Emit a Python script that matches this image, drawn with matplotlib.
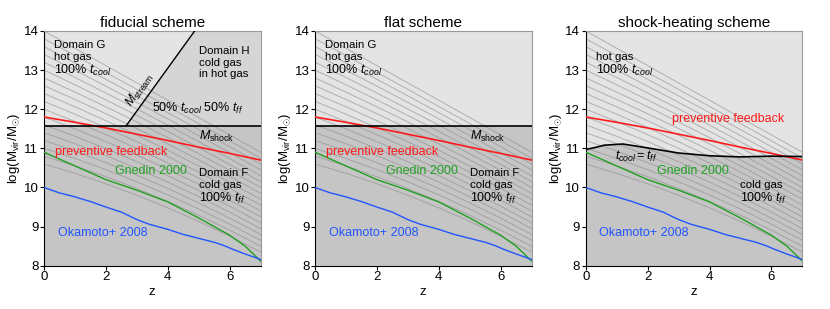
import matplotlib.pyplot as plt
from matplotlib.patches import Polygon

plt.rcParams['font.family'] = ['Liberation Sans', 'DejaVu Sans']
plt.rcParams['mathtext.fontset'] = 'custom'
plt.rcParams['mathtext.rm'] = 'Liberation Sans'
plt.rcParams['mathtext.it'] = 'Liberation Sans:italic'
plt.rcParams['font.size'] = 8

# halo mass accretion tracks, log M at z = 0..7
z_track = [0, 1, 2, 3, 4, 5, 6, 7]
tracks = [
    [14.00, 13.557, 13.114, 12.671, 12.229, 11.786, 11.343, 10.90],
    [13.80, 13.371, 12.940, 12.506, 12.070, 11.632, 11.192, 10.75],
    [13.60, 13.184, 12.764, 12.340, 11.912, 11.479, 11.042, 10.60],
    [13.40, 12.998, 12.589, 12.174, 11.753, 11.325, 10.891, 10.45],
    [13.20, 12.811, 12.413, 12.007, 11.593, 11.170, 10.739, 10.30],
    [13.00, 12.624, 12.237, 11.840, 11.433, 11.016, 10.588, 10.15],
    [12.80, 12.436, 12.061, 11.673, 11.273, 10.861, 10.436, 10.00],
    [12.60, 12.249, 11.884, 11.505, 11.112, 10.705, 10.285, 9.85],
    [12.40, 12.061, 11.706, 11.336, 10.951, 10.549, 10.132, 9.70],
    [12.20, 11.873, 11.529, 11.167, 10.789, 10.393, 9.980, 9.55],
    [12.00, 11.685, 11.351, 10.998, 10.627, 10.237, 9.828, 9.40],
    [11.80, 11.496, 11.172, 10.828, 10.464, 10.080, 9.675, 9.25],
    [11.60, 11.308, 10.994, 10.658, 10.301, 9.922, 9.522, 9.10],
    [11.40, 11.119, 10.815, 10.488, 10.138, 9.765, 9.369, 8.95],
    [11.20, 10.930, 10.635, 10.317, 9.974, 9.607, 9.216, 8.80],
    [11.00, 10.741, 10.456, 10.145, 9.810, 9.448, 9.062, 8.65],
    [10.80, 10.551, 10.275, 9.973, 9.645, 9.290, 8.908, 8.50],
    [10.60, 10.361, 10.095, 9.801, 9.480, 9.131, 8.754, 8.35],
]

z_prev = [0, 1, 2, 3, 4, 5, 6, 7]
m_prev = [11.80, 11.665, 11.52, 11.36, 11.20, 11.03, 10.87, 10.70]

z_gned = [0, 1, 2, 3, 4, 5, 6, 6.5, 7]
m_gned = [10.90, 10.55, 10.20, 9.93, 9.63, 9.22, 8.78, 8.50, 8.12]

z_oka = [0, 0.5, 1.0, 1.5, 2.0, 2.5, 3.0, 3.4, 4.0, 4.5, 5.0, 5.5, 5.8, 6.1, 6.5, 7.0]
m_oka = [10.0, 9.86, 9.76, 9.64, 9.50, 9.37, 9.18, 9.06, 8.93, 8.80, 8.70, 8.60, 8.52, 8.42, 8.30, 8.16]

z_tc = [0, 0.3, 0.6, 1.2, 2.0, 3.0, 4.0, 5.0, 6.0, 7.0]
m_tc = [10.97, 11.02, 11.08, 11.11, 11.01, 10.88, 10.81, 10.78, 10.80, 10.79]

m_shock = 11.57
stream_z = [2.65, 4.87]
stream_m = [11.57, 14.0]

titles = ['fiducial scheme', 'flat scheme', 'shock-heating scheme']

c_light = '#e4e4e4'
c_mid = '#d5d5d5'
c_dark = '#c5c5c5'
fs_txt = 8.2
fs_math = 9

fig = plt.figure(figsize=(8.3, 3.09), dpi=100)
lefts = [0.053, 0.3795, 0.7057]
axes = [fig.add_axes([l, 0.140, 0.261, 0.760]) for l in lefts]

for k, ax in enumerate(axes):
    ax.set_xlim(0, 7)
    ax.set_ylim(8, 14)
    if k < 2:
        ax.axhspan(m_shock, 14, color=c_light, lw=0, zorder=0)
        ax.axhspan(8, m_shock, color=c_dark, lw=0, zorder=0)
    else:
        ax.fill_between(z_tc, m_tc, 14, color=c_light, lw=0, zorder=0)
        ax.fill_between(z_tc, 8, m_tc, color=c_dark, lw=0, zorder=0)
    if k == 0:
        ax.add_patch(Polygon([(stream_z[0], stream_m[0]), (stream_z[1], stream_m[1]),
                              (7, 14), (7, m_shock)], closed=True,
                             facecolor=c_mid, edgecolor='none', zorder=0))
    for t in tracks:
        ax.plot(z_track, t, color='#8c8c8c', lw=0.7, alpha=0.6, zorder=1)
    ax.plot(z_prev, m_prev, color='#ff1a1a', lw=1.2, zorder=3)
    ax.plot(z_gned, m_gned, color='#22a022', lw=1.0, zorder=3)
    ax.plot(z_oka, m_oka, color='#2255ff', lw=1.0, zorder=3)
    if k < 2:
        ax.plot([0, 7], [m_shock, m_shock], color='k', lw=1.2, zorder=4)
        ax.text(5.0, 11.3, r'$M_{\rm shock}$', fontsize=fs_math, va='center', zorder=5)
        ax.text(0.33, 13.64, 'Domain G', fontsize=fs_txt, va='center', zorder=5)
        ax.text(0.33, 13.33, 'hot gas', fontsize=fs_txt, va='center', zorder=5)
        ax.text(0.33, 12.98, r'100% $t_{cool}$', fontsize=fs_math, va='center', zorder=5)
        ax.text(0.35, 10.91, 'preventive feedback', color='#ff1a1a', fontsize=fs_math,
                va='center', zorder=5)
        ax.text(5.0, 10.38, 'Domain F', fontsize=fs_txt, va='center', zorder=5)
        ax.text(5.0, 10.07, 'cold gas', fontsize=fs_txt, va='center', zorder=5)
        ax.text(5.0, 9.73, r'100% $t_{ff}$', fontsize=fs_math, va='center', zorder=5)
    else:
        ax.plot(z_tc, m_tc, color='k', lw=1.2, zorder=4)
        ax.text(0.33, 13.33, 'hot gas', fontsize=fs_txt, va='center', zorder=5)
        ax.text(0.33, 12.98, r'100% $t_{cool}$', fontsize=fs_math, va='center', zorder=5)
        ax.text(2.8, 11.74, 'preventive feedback', color='#ff1a1a', fontsize=fs_math,
                va='center', zorder=5)
        ax.text(0.95, 10.8, r'$t_{cool} = t_{ff}$', fontsize=fs_math, va='center', zorder=5)
        ax.text(5.0, 10.07, 'cold gas', fontsize=fs_txt, va='center', zorder=5)
        ax.text(5.0, 9.73, r'100% $t_{ff}$', fontsize=fs_math, va='center', zorder=5)
    ax.text(2.3, 10.42, 'Gnedin 2000', color='#22a022', fontsize=fs_math, va='center', zorder=5)
    ax.text(0.44, 8.83, 'Okamoto+ 2008', color='#2255ff', fontsize=fs_math, va='center', zorder=5)

    ax.set_title(titles[k], fontsize=11, pad=3)
    ax.set_xlabel('z', fontsize=9.5, labelpad=2)
    ax.set_ylabel(r'log(M$_{\rm vir}$/M$_{\odot}$)', fontsize=9.5, labelpad=1)
    ax.set_xticks([0, 2, 4, 6])
    ax.set_yticks([8, 9, 10, 11, 12, 13, 14])
    ax.tick_params(labelsize=9.5, length=3, width=0.8, pad=1)
    for s in ['top', 'right']:
        ax.spines[s].set_color('#999999')
    for s in ['left', 'bottom']:
        ax.spines[s].set_color('k')

ax = axes[0]
ax.plot(stream_z, stream_m, color='k', lw=1.0, zorder=4)
ax.text(5.0, 13.49, 'Domain H', fontsize=fs_txt, va='center', zorder=5)
ax.text(5.0, 13.19, 'cold gas', fontsize=fs_txt, va='center', zorder=5)
ax.text(5.0, 12.89, 'in hot gas', fontsize=fs_txt, va='center', zorder=5)
ax.text(3.1, 12.5, r'$M_{\rm stream}$', fontsize=fs_math, rotation=55,
        ha='center', va='center', zorder=5)
ax.text(3.5, 12.03, r'50% $t_{cool}$ 50% $t_{ff}$', fontsize=fs_math, va='center', zorder=5)

fig.savefig('out.png', dpi=100)
